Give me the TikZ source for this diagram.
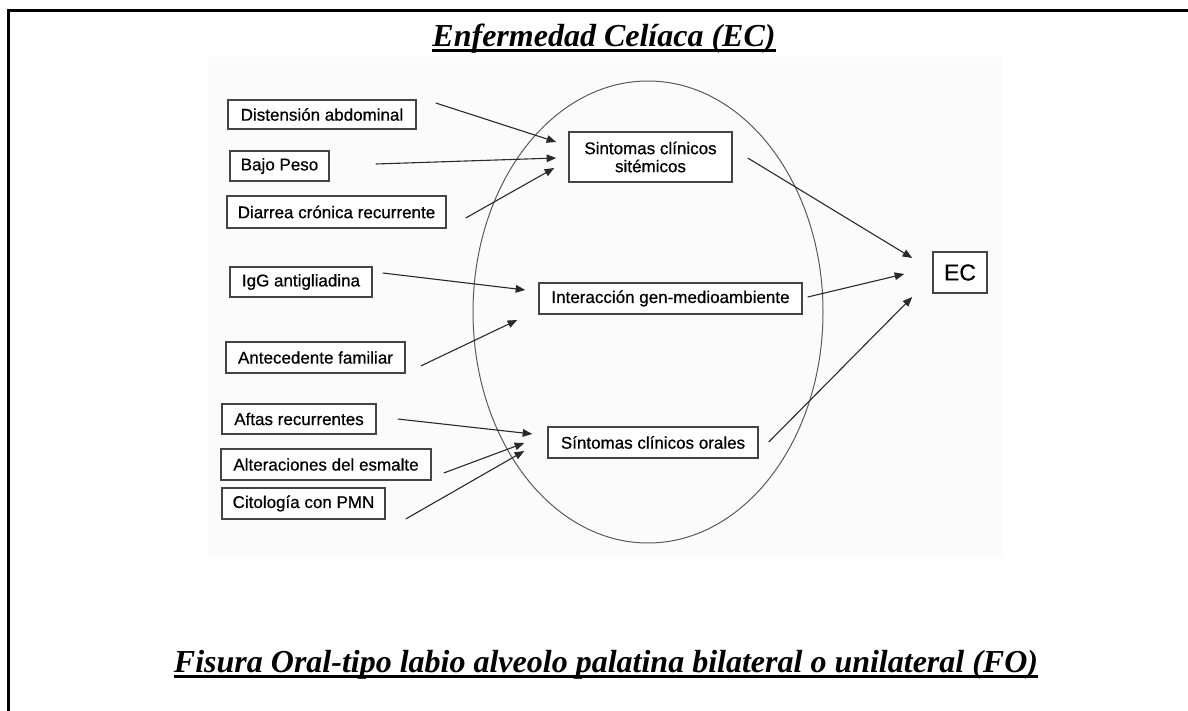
\documentclass[tikz,border=0pt]{standalone}
\usepackage{fontspec}
\setmainfont{Liberation Serif}
\newfontfamily\arialfont[FakeBold=0.6]{Liberation Sans}
\usetikzlibrary{arrows.meta}
\definecolor{boxline}{HTML}{444444}
\definecolor{ovalline}{HTML}{5A5A5A}
\definecolor{arrline}{HTML}{2A2A2A}
\definecolor{imgback}{HTML}{FBFBFB}
\tikzset{
  factor/.style={draw=boxline, line width=0.75pt, fill=white, inner sep=0pt,
    font=\arialfont\fontsize{8.5}{9}\selectfont, minimum height=15pt},
  arr/.style={draw=arrline, line width=0.55pt, -{Triangle[length=4.8pt,width=3.8pt]}},
  ul/.style={line width=1.6pt}
}

\begin{document}
\begin{tikzpicture}[x=0.5pt, y=-0.5pt]
  \useasboundingbox (0,0) rectangle (1188,711);

  % page frame and the pasted figure
  \draw[line width=1.5pt] (8,711) -- (8,11) -- (1188,11);
  \fill[imgback] (208,57) rectangle (1003,557);

  \node[inner sep=0pt, anchor=base, font=\bfseries\itshape\fontsize{16}{19}\selectfont] (title) at (604,47) {Enfermedad Celíaca (EC)};
  \draw[ul] ([yshift=-1.8pt]title.base west) -- ([yshift=-1.8pt]title.base east);

  \draw[ovalline, line width=0.5pt] (648,312) ellipse [x radius=175, y radius=231];

  % risk factors on the left
  \node[factor, minimum width=94pt, minimum height=14.5pt] (dist) at (322,114.5) {Distensión abdominal};
  \node[factor, minimum width=49.5pt] (bajo) at (279.5,166) {Bajo Peso};
  \node[factor, minimum width=109.5pt, minimum height=16pt] (diar) at (336.5,212) {Diarrea crónica recurrente};
  \node[factor, minimum width=71pt] (igg) at (301,282) {IgG antigliadina};
  \node[factor, minimum width=89.5pt, minimum height=15.5pt] (ante) at (315.5,357.5) {Antecedente familiar};
  \node[factor, minimum width=77pt] (afta) at (299,419) {Aftas recurrentes};
  \node[factor, minimum width=105pt, minimum height=15.5pt] (alte) at (326,464.5) {Alteraciones del esmalte};
  \node[factor, minimum width=81.5pt, minimum height=15.5pt] (cito) at (303.5,503.5) {Citología con PMN};

  % grouped constructs inside the oval
  \node[factor, minimum width=81.5pt, minimum height=25pt, align=center] (sist) at (650.5,157) {Sintomas clínicos\\sitémicos};
  \node[factor, minimum width=131.5pt, minimum height=15.5pt] (inte) at (670.5,298.5) {Interacción gen-medioambiente};
  \node[factor, minimum width=105pt, minimum height=15.5pt] (oral) at (653,442.5) {Síntomas clínicos orales};

  \node[factor, minimum width=27pt, minimum height=20.5pt, font=\arialfont\fontsize{11.5}{12}\selectfont] (ec) at (960,272.5) {EC};

  \draw[arr] ([shift={(19,-11.5)}]dist.east) -- ([shift={(-12,-15)}]sist.west);
  \draw[arr] ([shift={(46,-2)}]bajo.east) -- ([shift={(-12,1)}]sist.west);
  \draw[arr] ([shift={(19,6)}]diar.east) -- ([shift={(-14,11)}]sist.west);

  \draw[arr] ([shift={(10,-9)}]igg.east) -- ([shift={(-13,-8.5)}]inte.west);
  \draw[arr] ([shift={(15,8.5)}]ante.east) -- ([shift={(-21,21.5)}]inte.west);

  \draw[arr] ([shift={(21,0)}]afta.east) -- ([shift={(-15,-8.5)}]oral.west);
  \draw[arr] ([shift={(12,8.5)}]alte.east) -- ([shift={(-23,0.5)}]oral.west);
  \draw[arr] ([shift={(20,15.5)}]cito.east) -- ([shift={(-23,8.5)}]oral.west);

  \draw[arr] ([shift={(15,1)}]sist.east) -- ([shift={(-20,-14.5)}]ec.west);
  \draw[arr] ([shift={(5,-1.5)}]inte.east) -- ([shift={(-28,1.5)}]ec.west);
  \draw[arr] ([shift={(10,-0.5)}]oral.east) -- ([shift={(-20,24.5)}]ec.west);

  \node[inner sep=0pt, anchor=base, font=\bfseries\itshape\fontsize{16}{19}\selectfont] (fisura) at (606,672) {Fisura Oral-tipo labio alveolo palatina bilateral o unilateral (FO)};
  \draw[ul] ([yshift=-2.2pt]fisura.base west) -- ([yshift=-2.2pt]fisura.base east);
\end{tikzpicture}
\end{document}
